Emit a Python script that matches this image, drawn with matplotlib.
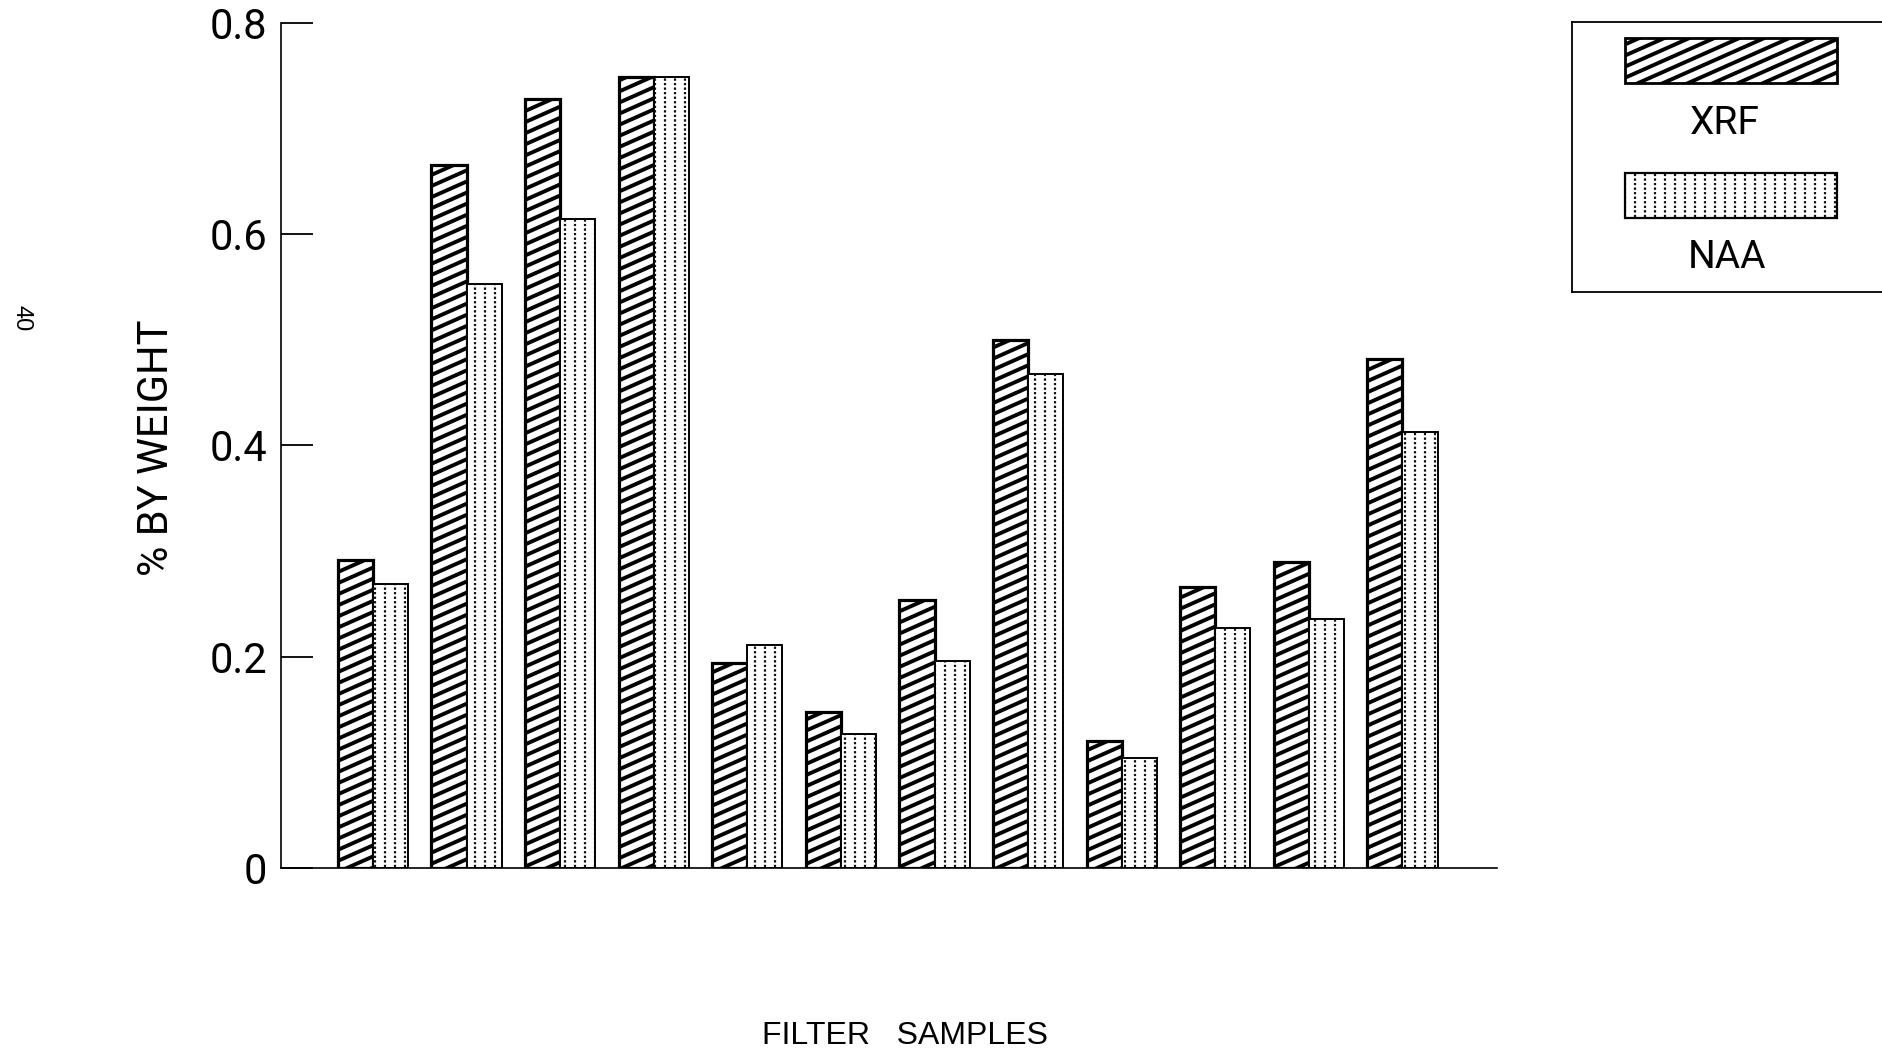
import numpy as np
import matplotlib
matplotlib.use('Agg')
import matplotlib.pyplot as plt
import matplotlib.hatch as mhatch
from matplotlib.path import Path
from matplotlib.patches import Rectangle

# ---------------- data ----------------
samples = list(range(1, 13))
xrf = [0.292, 0.666, 0.728, 0.749, 0.194, 0.148, 0.254, 0.500, 0.120, 0.266, 0.290, 0.482]
naa = [0.269, 0.553, 0.614, 0.749, 0.211, 0.127, 0.196, 0.468, 0.104, 0.227, 0.236, 0.413]
series_names = ['XRF', 'NAA']
yticks = [0, 0.2, 0.4, 0.6, 0.8]
ytick_labels = ['0', '0.2', '0.4', '0.6', '0.8']
xlabel = 'FILTER   SAMPLES'
ylabel = '% BY WEIGHT'
page_number = '40'


# ---------------- custom hatch patterns ----------------
class StripeHatch(mhatch.HatchPatternBase):
    """shallow diagonal stripes, drawn for '/'"""
    def __init__(self, hatch, density):
        self.n = 9
        self.k = 4
        self.idx = list(range(-7, 11)) if hatch.count('/') > 0 else []
        self.num_vertices = 2 * len(self.idx)

    def set_vertices_and_codes(self, vertices, codes):
        s = self.k / self.n
        x0, x1 = -0.25, 1.25
        for j, i in enumerate(self.idx):
            c = i / self.n
            vertices[2 * j] = (x0, s * x0 + c)
            vertices[2 * j + 1] = (x1, s * x1 + c)
            codes[2 * j] = Path.MOVETO
            codes[2 * j + 1] = Path.LINETO


class DotColumnHatch(mhatch.HatchPatternBase):
    """vertical columns of small dots, drawn for '.'"""
    def __init__(self, hatch, density):
        self.on = hatch.count('.') > 0
        self.ncol = 10
        self.nrow = 22
        self.num_vertices = 5 * self.ncol * self.nrow if self.on else 0

    def set_vertices_and_codes(self, vertices, codes):
        h = 0.0075
        k = 0
        for ci in range(self.ncol):
            x = (ci + 0.5) / self.ncol
            for ri in range(self.nrow):
                y = (ri + 0.5) / self.nrow
                vertices[k:k + 5] = [(x - h, y - h), (x + h, y - h), (x + h, y + h),
                                     (x - h, y + h), (x - h, y - h)]
                codes[k:k + 5] = [Path.MOVETO, Path.LINETO, Path.LINETO,
                                  Path.LINETO, Path.CLOSEPOLY]
                k += 5


mhatch._hatch_types = [StripeHatch, DotColumnHatch]

THIN = ['Roboto', 'DejaVu Sans']
REG = ['Liberation Sans', 'DejaVu Sans']

W, H = 1883, 1055
fig = plt.figure(figsize=(W / 100, H / 100), dpi=100)
fig.patch.set_facecolor('white')

# main axes
ax_l, ax_r, ax_t, ax_b = 281, 1497, 23, 868
ax = fig.add_axes([ax_l / W, 1 - ax_b / H, (ax_r - ax_l) / W, (ax_b - ax_t) / H])

x = np.arange(len(samples))
bw = 0.375

XRF_HLW = 2.8
NAA_HLW = 0.5

plt.rcParams['hatch.linewidth'] = XRF_HLW
b1 = ax.bar(x - bw / 2, xrf, width=bw, facecolor='white', edgecolor='black',
            linewidth=2.3, hatch='/', label=series_names[0], zorder=3)
for p in b1:
    if hasattr(p, 'set_hatch_linewidth'):
        p.set_hatch_linewidth(XRF_HLW)

plt.rcParams['hatch.linewidth'] = NAA_HLW
b2 = ax.bar(x + bw / 2, naa, width=bw, facecolor='white', edgecolor='black',
            linewidth=1.4, hatch='.', label=series_names[1], zorder=3)
for p in b2:
    if hasattr(p, 'set_hatch_linewidth'):
        p.set_hatch_linewidth(NAA_HLW)

ax.set_xlim(-0.983, 12.01)
ax.set_ylim(0, 0.8)
ax.set_xticks([])
ax.set_yticks(yticks)
ax.set_yticklabels(ytick_labels, fontfamily=THIN, fontweight='normal', fontsize=30)
ax.tick_params(axis='y', direction='in', length=23, width=1.3, pad=10)
for s in ['top', 'right']:
    ax.spines[s].set_visible(False)
for s in ['left', 'bottom']:
    ax.spines[s].set_linewidth(1.2)

# axis titles
fig.text(157 / W, 1 - 448 / H, ylabel, rotation=90, ha='center', va='center',
         fontsize=30, fontfamily=THIN, fontweight='normal')
fig.text(905 / W, 1 - 1036 / H, xlabel, ha='center', va='center',
         fontsize=23, fontfamily=REG)
fig.text(22 / W, 1 - 318 / H, page_number, rotation=-90, ha='center', va='center',
         fontsize=17, fontfamily=REG)

# legend box
lg_l, lg_r, lg_t, lg_b = 1572, 1890, 22, 292
lax = fig.add_axes([lg_l / W, 1 - lg_b / H, (lg_r - lg_l) / W, (lg_b - lg_t) / H])
lax.set_xlim(lg_l, lg_r)
lax.set_ylim(lg_b, lg_t)
lax.set_xticks([])
lax.set_yticks([])
lax.spines['right'].set_visible(False)
for s in ['left', 'top', 'bottom']:
    lax.spines[s].set_linewidth(1.3)

plt.rcParams['hatch.linewidth'] = XRF_HLW
r1 = Rectangle((1625, 38), 212, 45, facecolor='white', edgecolor='black',
               linewidth=2.0, hatch='/')
if hasattr(r1, 'set_hatch_linewidth'):
    r1.set_hatch_linewidth(XRF_HLW)
lax.add_patch(r1)
plt.rcParams['hatch.linewidth'] = NAA_HLW
r2 = Rectangle((1625, 173), 212, 45, facecolor='white', edgecolor='black',
               linewidth=1.6, hatch='.')
if hasattr(r2, 'set_hatch_linewidth'):
    r2.set_hatch_linewidth(NAA_HLW)
lax.add_patch(r2)
lax.text(1725, 123, series_names[0], ha='center', va='center', fontsize=28,
         fontfamily=THIN, fontweight='normal')
lax.text(1727, 258, series_names[1], ha='center', va='center', fontsize=28,
         fontfamily=THIN, fontweight='normal')

fig.savefig('out.png', dpi=100, facecolor='white')
